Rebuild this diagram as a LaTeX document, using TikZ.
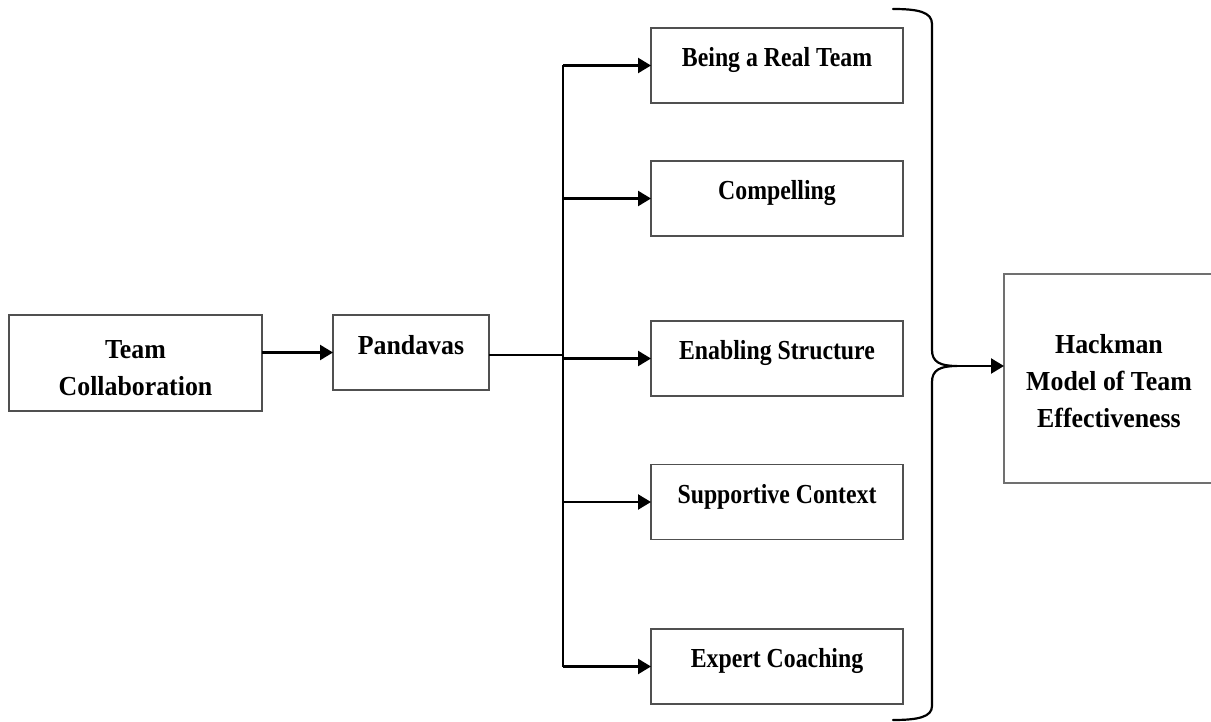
\documentclass[tikz,border=0pt]{standalone}
\usepackage{fontspec}
\setmainfont{Liberation Serif}
\newfontfamily\wideface{Liberation Serif}[FakeStretch=0.94]
\newfontfamily\narrowface{Liberation Serif}[FakeStretch=0.865]
\usetikzlibrary{arrows.meta}
\definecolor{boxgray}{HTML}{505050}
\definecolor{hackgray}{HTML}{707070}
\tikzset{
  box/.style={draw=boxgray, line width=1.2pt, rectangle, inner sep=0pt, outer sep=0pt,
    align=center, font=\wideface\bfseries\fontsize{27.5}{37}\selectfont},
  rbox/.style={box, minimum width=252pt, minimum height=75pt,
    font=\narrowface\bfseries\fontsize{27.5}{37}\selectfont, text height=2pt, text depth=0pt},
  conn/.style={line width=2.3pt, black},
  arr/.style={conn, -{Triangle[length=13pt,width=15pt]}},
  bracepath/.style={line width=2.2pt, black, line cap=round, line join=round}
}
\begin{document}
\begin{tikzpicture}[x=1pt,y=-1pt]
\useasboundingbox (0,0) rectangle (1211,722);
% left nodes
\node[box, minimum width=253pt, minimum height=96pt] (tc) at (135.5,363) {\rule{0pt}{28pt}Team\\Collaboration};
\node[box, minimum width=156pt, minimum height=75pt, text height=4pt, text depth=0pt] (pan) at (411,352.5) {Pandavas};
% right column
\node[rbox] (b1) at (777,65.5) {Being a Real Team};
\node[rbox] (b2) at (777,198.5) {Compelling};
\node[rbox] (b3) at (777,358.5) {Enabling Structure};
\node[rbox] (b4) at (777,502) {Supportive Context};
\node[rbox] (b5) at (777,666.5) {Expert Coaching};
% Hackman
\node[box, draw=hackgray, line width=2pt, minimum width=210pt, minimum height=209pt] (hk) at (1109,378.5) {\rule{0pt}{25pt}Hackman\\Model of Team\\Effectiveness};
% connectors
\coordinate (bus) at (563,355);
\draw[arr] (tc.east |- pan.west) -- (pan.west);
\draw[conn] (pan.east |- bus) -- (bus);
\draw[conn] (b1.west -| bus) -- (b5.west -| bus);
\foreach \b in {b1,b2,b3,b4,b5}{
  \draw[arr] (\b.west -| bus) -- (\b.west);
}
% brace
\coordinate (tip) at (957,366);
\draw[bracepath] (893,9) .. controls (918,9) and (932,12) .. (932,24)
  -- (932,350) .. controls (932,362) and (940,366) .. (tip)
  .. controls (940,366) and (932,370) .. (932,382)
  -- (932,706) .. controls (932,717) and (918,720) .. (893,720);
\draw[arr] (tip) -- (tip -| hk.west);
\end{tikzpicture}
\end{document}
